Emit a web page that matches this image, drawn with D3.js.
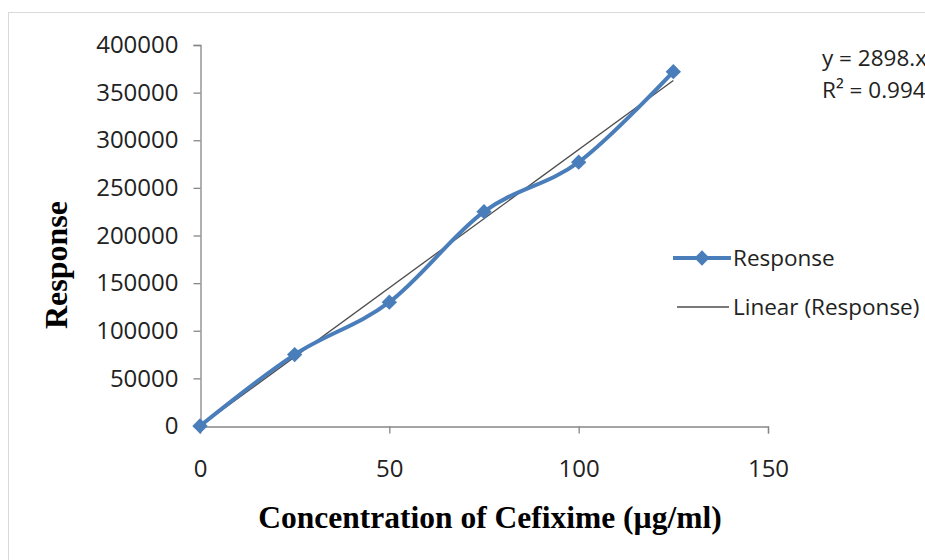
<!DOCTYPE html>
<html>
<head>
<meta charset="utf-8">
<script src="https://cdn.jsdelivr.net/npm/d3@7"></script>
<style>
  body { margin: 0; background: #fff; }
  svg { display: block; }
</style>
</head>
<body>
<div id="chart"></div>
<script>
// data
const concentrations = [0, 25, 50, 75, 100, 125];
const responses = [0, 75000, 130000, 225000, 277000, 372000];
const yTicks = [0, 50000, 100000, 150000, 200000, 250000, 300000, 350000, 400000];
const xTicks = [0, 50, 100, 150];
const equationLines = ['y = 2898.x', 'R\u00b2 = 0.994'];

const width = 925, height = 560;
const blue = '#4a7ebb';
const axisColor = '#868686';
const sansFont = '"Open Sans", "Noto Sans", sans-serif';
const serifFont = '"Liberation Serif", "DejaVu Serif", serif';

const svg = d3.select('#chart').append('svg')
  .attr('width', width)
  .attr('height', height);

// chart area border (runs off the page on the right and bottom)
svg.append('rect')
  .attr('x', 8.5).attr('y', 12.5)
  .attr('width', 1000).attr('height', 1000)
  .attr('fill', 'none')
  .attr('stroke', '#d9d9d9');

const xScale = d3.scaleLinear().domain([0, 150]).range([200, 768]);
const yScale = d3.scaleLinear().domain([0, 400000]).range([426, 45]);

// y axis
const yAxis = svg.append('g')
  .attr('transform', 'translate(200.5, 0)')
  .call(d3.axisLeft(yScale).tickValues(yTicks).tickFormat(d3.format('d')).tickSizeOuter(0).tickSize(7).tickPadding(15));

// x axis
const xAxis = svg.append('g')
  .attr('transform', 'translate(0, 426.5)')
  .call(d3.axisBottom(xScale).tickValues(xTicks).tickSizeOuter(0).tickSize(7).tickPadding(26));

[yAxis, xAxis].forEach(ax => {
  ax.select('.domain').attr('stroke', axisColor).attr('stroke-width', 1.3);
  ax.selectAll('.tick line').attr('stroke', axisColor).attr('stroke-width', 1.3);
  ax.selectAll('.tick text')
    .attr('fill', '#222')
    .style('font-family', sansFont)
    .style('font-size', '24px');
});

// linear trendline from least squares on the data
const n = concentrations.length;
const mx = d3.mean(concentrations), my = d3.mean(responses);
const slope = d3.sum(concentrations, (x, i) => (x - mx) * (responses[i] - my)) /
  d3.sum(concentrations, x => (x - mx) * (x - mx));
const intercept = my - slope * mx;
const trendX = [concentrations[0], concentrations[n - 1]];

svg.append('line')
  .attr('x1', xScale(trendX[0])).attr('y1', yScale(Math.max(0, slope * trendX[0] + intercept)))
  .attr('x2', xScale(trendX[1])).attr('y2', yScale(slope * trendX[1] + intercept))
  .attr('stroke', '#4d4d4d')
  .attr('stroke-width', 1.3);

// smoothed series line
const line = d3.line()
  .x((d, i) => xScale(concentrations[i]))
  .y(d => yScale(d))
  .curve(d3.curveCatmullRom.alpha(0));

svg.append('path')
  .datum(responses)
  .attr('d', line)
  .attr('fill', 'none')
  .attr('stroke', blue)
  .attr('stroke-width', 4);

const diamond = d3.symbol().type(d3.symbolDiamond2).size(150);

svg.selectAll('.marker')
  .data(responses)
  .enter()
  .append('path')
  .attr('class', 'marker')
  .attr('d', diamond)
  .attr('transform', (d, i) => `translate(${xScale(concentrations[i])}, ${yScale(d)})`)
  .attr('fill', blue);

// trendline equation (clipped by page edge)
svg.selectAll('.eq')
  .data(equationLines)
  .enter()
  .append('text')
  .attr('class', 'eq')
  .attr('x', 822)
  .attr('y', (d, i) => 66 + i * 32)
  .attr('fill', '#222')
  .style('font-family', sansFont)
  .style('font-size', '22.5px')
  .text(d => d);

// legend
const legend = svg.append('g');
legend.append('line')
  .attr('x1', 673).attr('x2', 731).attr('y1', 258).attr('y2', 258)
  .attr('stroke', blue).attr('stroke-width', 4);
legend.append('path')
  .attr('d', diamond)
  .attr('transform', 'translate(702, 258)')
  .attr('fill', blue);
legend.append('text')
  .attr('x', 733).attr('y', 266)
  .attr('fill', '#222')
  .style('font-family', sansFont).style('font-size', '22.5px')
  .text('Response');
legend.append('line')
  .attr('x1', 677).attr('x2', 729).attr('y1', 307).attr('y2', 307)
  .attr('stroke', '#4d4d4d').attr('stroke-width', 1.3);
legend.append('text')
  .attr('x', 733).attr('y', 315)
  .attr('fill', '#222')
  .style('font-family', sansFont).style('font-size', '22.5px')
  .text('Linear (Response)');

// axis titles
svg.append('text')
  .attr('transform', 'translate(67, 265) rotate(-90)')
  .attr('text-anchor', 'middle')
  .style('font-family', serifFont)
  .style('font-weight', 'bold')
  .style('font-size', '32px')
  .text('Response');

svg.append('text')
  .attr('x', 490)
  .attr('y', 528)
  .attr('text-anchor', 'middle')
  .style('font-family', serifFont)
  .style('font-weight', 'bold')
  .style('font-size', '31.5px')
  .text('Concentration of Cefixime (\u00b5g/ml)');
</script>
</body>
</html>
